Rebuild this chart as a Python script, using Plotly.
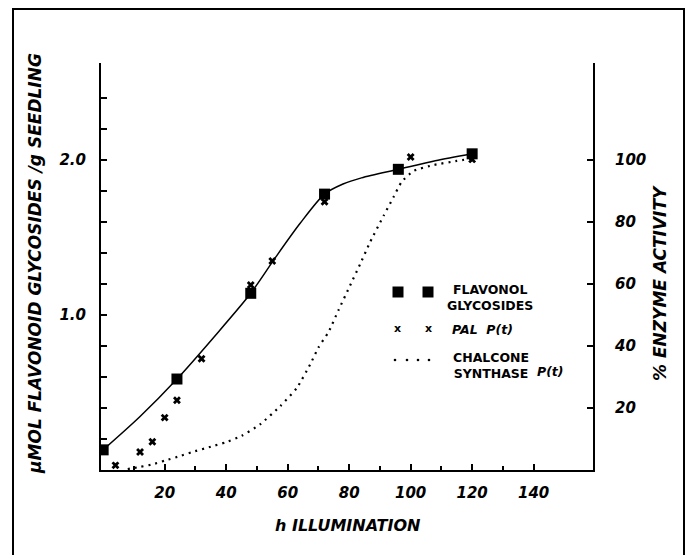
import plotly.graph_objects as go

# ---------------- data ----------------
# measured flavonol glycoside points (squares)
flav_h = [0, 24, 48, 72, 96, 120]
flav_umol = [0.13, 0.587, 1.14, 1.78, 1.94, 2.04]

# fitted curve through flavonol points
curve_h = [0, 12, 24, 36, 48, 56, 64, 72, 78, 84, 96, 108, 120]
curve_umol = [0.13, 0.345, 0.587, 0.857, 1.14, 1.37, 1.59, 1.78, 1.845, 1.885,
              1.94, 1.995, 2.04]

pal_h = [4, 12, 16, 20, 24, 32, 48, 55, 72, 100, 120]
pal_pct = [1.5, 5.8, 9.1, 16.9, 22.5, 35.9, 59.7, 67.4, 86.5, 101, 100.2]

chs_h = [8, 12, 16, 20, 25, 29, 35, 40, 45, 51, 57.6, 63, 67.3, 70, 73.3, 76.5,
         80.3, 83.6, 86.8, 91.2, 94.4, 97.1, 101, 107.5, 115, 120]
chs_pct = [0.3, 1.0, 1.8, 3.0, 4.5, 5.8, 7.5, 9.0, 11.0, 14.7, 20.6, 26.5,
           34.0, 39.5, 44.5, 51.5, 59.5, 66.5, 73.5, 82.0, 88.0, 93.0,
           96.5, 98.4, 99.7, 100.5]

x_ticks = [20, 40, 60, 80, 100, 120, 140]
x_minor = [10, 30, 50, 70, 90, 110, 130]
y_ticks = [0.2, 0.4, 0.6, 0.8, 1.0, 1.2, 1.4, 1.6, 1.8, 2.0, 2.2, 2.4]
y_labels = ["", "", "", "", "1.0", "", "", "", "", "2.0", "", ""]
y2_ticks = [20, 40, 60, 80, 100]

# ---------------- layout geometry ----------------
W, H = 690, 555
L, R, T, B = 101, 97, 63, 85
PW, PH = W - L - R, H - T - B


def px(xp):
    return (xp - L) / PW


def py(yp):
    return (H - B - yp) / PH


FONT = "DejaVu Sans"
tickfont = dict(family=FONT, size=15, color="black", weight="bold", style="italic")

fig = go.Figure()

fig.add_trace(go.Scatter(
    x=curve_h, y=curve_umol, mode="lines",
    line=dict(color="black", width=1.5, shape="spline", smoothing=0.8),
    name="fit", yaxis="y"))

fig.add_trace(go.Scatter(
    x=flav_h, y=flav_umol, mode="markers",
    marker=dict(symbol="square", size=11, color="black"),
    name="FLAVONOL GLYCOSIDES", yaxis="y"))

fig.add_trace(go.Scatter(
    x=chs_h, y=chs_pct, mode="lines",
    line=dict(color="black", width=2.2, dash="2px,5px", shape="spline", smoothing=0.5),
    name="CHALCONE SYNTHASE P(t)", yaxis="y2"))

fig.add_trace(go.Scatter(
    x=pal_h, y=pal_pct, mode="markers",
    marker=dict(symbol="x", size=7, color="black"),
    name="PAL P(t)", yaxis="y2"))

fig.update_layout(
    width=W, height=H,
    margin=dict(l=L, r=R, t=T, b=B),
    paper_bgcolor="white", plot_bgcolor="white",
    showlegend=False,
    xaxis=dict(range=[-0.7, 159.3], showgrid=False, zeroline=False,
               showline=True, linecolor="black", linewidth=2,
               ticks="inside", tickvals=x_ticks, ticklen=6, tickwidth=2,
               tickcolor="black", tickfont=tickfont, ticklabelstandoff=8,
               minor=dict(tickmode="array", tickvals=x_minor, ticks="inside",
                          ticklen=4, tickwidth=1.5, tickcolor="black")),
    yaxis=dict(range=[0, 2.626], showgrid=False, zeroline=False,
               showline=True, linecolor="black", linewidth=2,
               ticks="inside", tickvals=y_ticks, ticktext=y_labels,
               ticklen=6, tickwidth=1.5, tickcolor="black",
               tickfont=tickfont, ticklabelstandoff=10),
    yaxis2=dict(range=[0, 131.3], overlaying="y", side="right",
                showgrid=False, zeroline=False,
                showline=True, linecolor="black", linewidth=2,
                ticks="inside", tickvals=y2_ticks, ticklen=6, tickwidth=1.5,
                tickcolor="black", tickfont=tickfont, ticklabelstandoff=17),
)

titlefont = dict(family=FONT, size=17, color="black", weight="bold", style="italic")
titlefont_b = dict(family=FONT, size=16, color="black", weight="bold", style="italic")
legfont = dict(family=FONT, size=12.5, color="black", weight="bold")
legfont_i = dict(family=FONT, size=12.5, color="black", weight="bold", style="italic")
xfont = dict(family=FONT, size=11, color="black", weight="bold")

ann = [
    dict(text="μMOL FLAVONOID GLYCOSIDES /g SEEDLING", x=px(35), y=py(264),
         textangle=-90, font=titlefont),
    dict(text="% ENZYME ACTIVITY", x=px(660), y=py(283), textangle=-90, font=titlefont),
    dict(text="h ILLUMINATION", x=px(348), y=py(525), font=titlefont_b),
    dict(text="FLAVONOL<br>GLYCOSIDES", x=px(490), y=py(297), align="center",
         font=legfont),
    dict(text="PAL  P(t)", x=px(450), y=py(329), xanchor="left", font=legfont_i),
    dict(text="CHALCONE<br>SYNTHASE", x=px(491), y=py(365), align="center",
         font=legfont),
    dict(text="P(t)", x=px(550), y=py(371), font=legfont_i),
    dict(text="x", x=px(397), y=py(328), font=xfont),
    dict(text="x", x=px(428), y=py(328), font=xfont),
]
for a in ann:
    a.setdefault("xanchor", "center")
    a.update(xref="paper", yref="paper", showarrow=False, yanchor="middle")
    fig.add_annotation(**a)

shapes = []
# legend squares
for cx in (398, 428):
    shapes.append(dict(type="rect", xref="paper", yref="paper",
                       x0=px(cx - 5.5), x1=px(cx + 5.5), y0=py(292 + 5.5), y1=py(292 - 5.5),
                       fillcolor="black", line=dict(width=0)))
# legend dotted sample
for cx in (395, 407, 418, 429):
    shapes.append(dict(type="circle", xref="paper", yref="paper",
                       x0=px(cx - 1.3), x1=px(cx + 1.3), y0=py(360 + 1.3), y1=py(360 - 1.3),
                       fillcolor="black", line=dict(width=0)))
# outer frame
shapes.append(dict(type="rect", xref="paper", yref="paper",
                   x0=px(13), x1=px(684), y0=py(562), y1=py(9),
                   line=dict(color="black", width=2)))
fig.update_layout(shapes=shapes)

fig.write_html("out.html")
